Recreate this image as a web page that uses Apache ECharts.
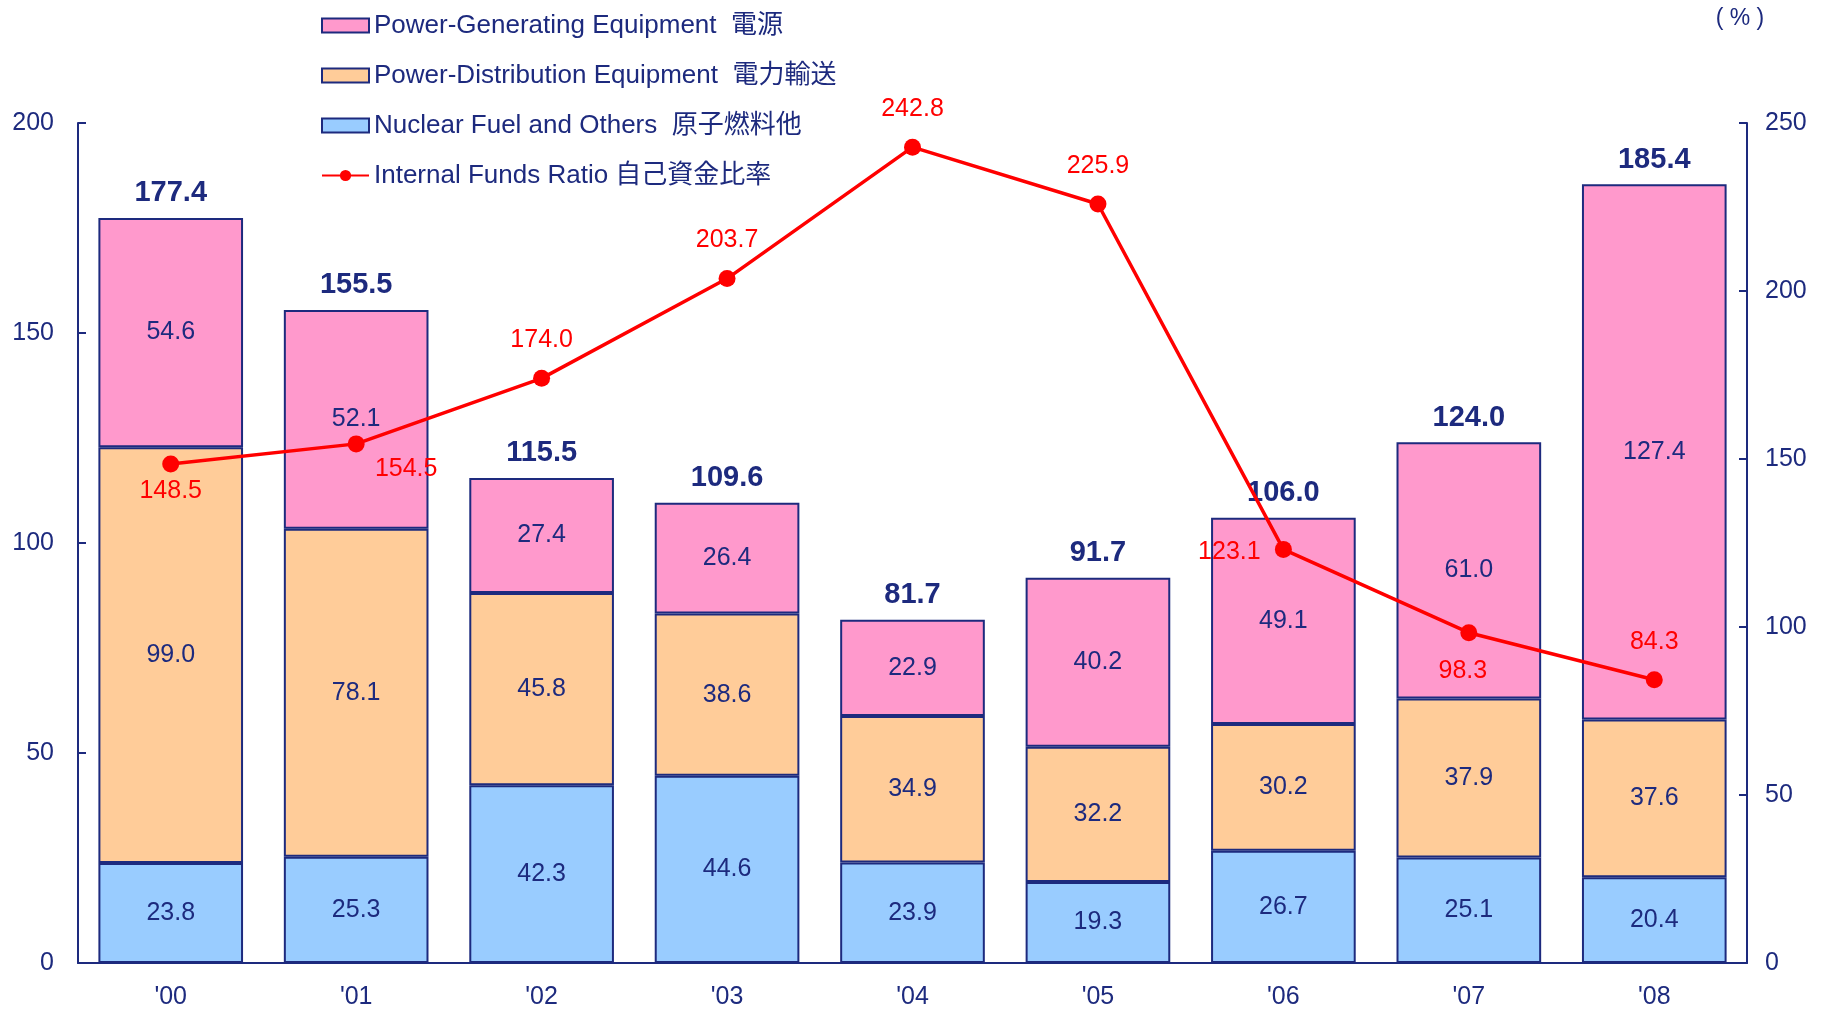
<!DOCTYPE html>
<html>
<head>
<meta charset="utf-8">
<script src="https://cdn.jsdelivr.net/npm/echarts@6/dist/echarts.min.js"></script>
<style>
  html, body { margin: 0; padding: 0; background: #fff; }
  #chart { width: 1823px; height: 1011px; }
</style>
</head>
<body>
<div id="chart"></div>
<script>
const years = ["'00", "'01", "'02", "'03", "'04", "'05", "'06", "'07", "'08"]
const nuclearFuel = [23.8, 25.3, 42.3, 44.6, 23.9, 19.3, 26.7, 25.1, 20.4]
const distribution = [99.0, 78.1, 45.8, 38.6, 34.9, 32.2, 30.2, 37.9, 37.6]
const generating = [54.6, 52.1, 27.4, 26.4, 22.9, 40.2, 49.1, 61.0, 127.4]
const totals = [177.4, 155.5, 115.5, 109.6, 81.7, 91.7, 106.0, 124.0, 185.4]
const fundsRatio = [148.5, 154.5, 174.0, 203.7, 242.8, 225.9, 123.1, 98.3, 84.3]
// where each ratio label sits relative to its point
const ratioLabelOffsets = [[0, 27], [50, 25], [0, -38], [0, -38], [0, -38], [0, -38], [-54, 3], [-6, 38], [0, -38]]

const navy = '#1d2a7e'
const font = "'Liberation Sans', 'Noto Sans CJK JP', sans-serif"

const chart = echarts.init(document.getElementById('chart'))

const barSeries = (name, data, color) => ({
  name,
  type: 'bar',
  stack: 'total',
  data,
  barCategoryGap: '22%',
  itemStyle: { color, borderColor: navy, borderWidth: 2 },
  label: {
    show: true,
    position: 'inside',
    color: navy,
    fontSize: 25,
    fontFamily: font,
    formatter: p => p.value.toFixed(1)
  }
})

chart.setOption({
  animation: false,
  textStyle: { fontFamily: font },
  legend: {
    orient: 'vertical',
    left: 316,
    top: 7,
    itemWidth: 47,
    itemHeight: 14,
    itemGap: 23,
    textStyle: { color: navy, fontSize: 26, lineHeight: 27, fontFamily: font },
    data: [
      { name: 'Power-Generating Equipment  電源', icon: 'rect' },
      { name: 'Power-Distribution Equipment  電力輸送', icon: 'rect' },
      { name: 'Nuclear Fuel and Others  原子燃料他', icon: 'rect' },
      'Internal Funds Ratio 自己資金比率'
    ]
  },
  grid: { left: 78, right: 76, top: 123, bottom: 48 },
  xAxis: {
    type: 'category',
    data: years,
    axisLine: { lineStyle: { color: navy, width: 2 } },
    axisTick: { inside: true, length: 8, lineStyle: { color: navy, width: 2 } },
    axisLabel: { color: navy, fontSize: 25, margin: 22 }
  },
  yAxis: [
    {
      type: 'value',
      min: 0,
      max: 200,
      interval: 50,
      splitLine: { show: false },
      axisLine: { show: true, lineStyle: { color: navy, width: 2 } },
      axisTick: { show: true, inside: true, length: 8, lineStyle: { color: navy, width: 2 } },
      axisLabel: { color: navy, fontSize: 25, margin: 24 }
    },
    {
      type: 'value',
      min: 0,
      max: 250,
      interval: 50,
      name: '( % )',
      nameLocation: 'end',
      nameGap: 93,
      nameTextStyle: { color: navy, fontSize: 23, padding: [0, 14, 0, 0] },
      splitLine: { show: false },
      axisLine: { show: true, lineStyle: { color: navy, width: 2 } },
      axisTick: { show: true, inside: true, length: 8, lineStyle: { color: navy, width: 2 } },
      axisLabel: { color: navy, fontSize: 25, margin: 18 }
    }
  ],
  series: [
    barSeries('Nuclear Fuel and Others  原子燃料他', nuclearFuel, '#99ccff'),
    barSeries('Power-Distribution Equipment  電力輸送', distribution, '#ffcc99'),
    barSeries('Power-Generating Equipment  電源', generating, '#ff99cc'),
    {
      // invisible carrier for the bold totals on top of each stack
      name: 'totals',
      type: 'bar',
      stack: 'total',
      data: years.map(() => 0),
      itemStyle: { color: 'transparent', borderWidth: 0 },
      label: {
        show: true,
        position: 'top',
        distance: 10,
        color: navy,
        fontSize: 29,
        fontWeight: 'bold',
        fontFamily: font,
        formatter: p => totals[p.dataIndex].toFixed(1)
      }
    },
    {
      name: 'Internal Funds Ratio 自己資金比率',
      type: 'line',
      yAxisIndex: 1,
      symbol: 'circle',
      symbolSize: 17,
      lineStyle: { color: '#ff0000', width: 3.5 },
      itemStyle: { color: '#ff0000' },
      data: fundsRatio.map((v, i) => ({
        value: v,
        label: {
          show: true,
          position: 'inside',
          offset: ratioLabelOffsets[i],
          color: '#ff0000',
          fontSize: 25,
          fontFamily: font,
          formatter: p => p.value.toFixed(1)
        }
      })),
      z: 5
    }
  ]
})
</script>
</body>
</html>
